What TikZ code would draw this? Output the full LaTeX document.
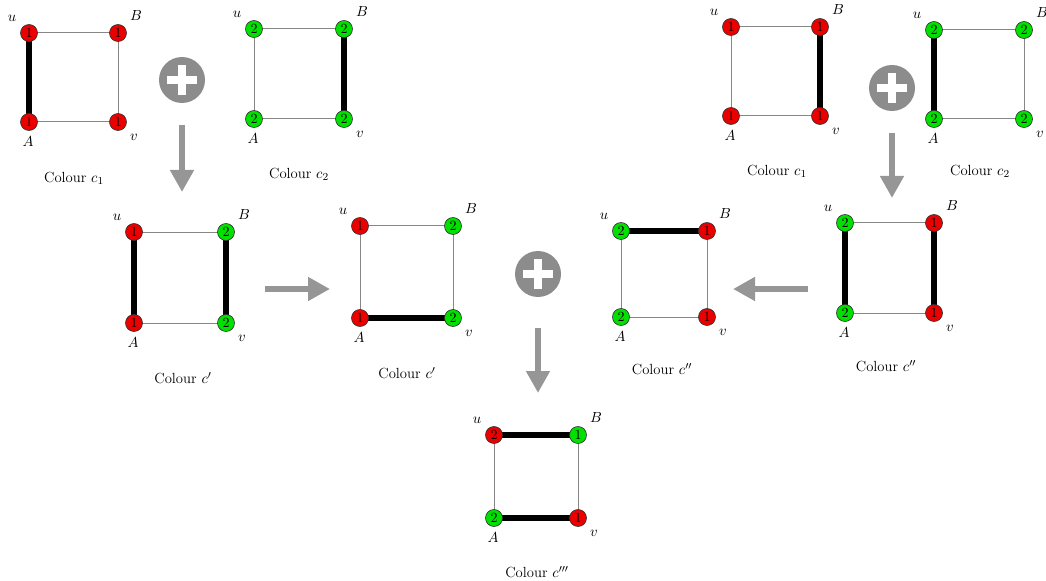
\documentclass[tikz,border=0pt]{standalone}
\usetikzlibrary{calc,arrows.meta,backgrounds}
\definecolor{vred}{RGB}{235,0,0}
\definecolor{vgreen}{RGB}{0,225,0}
\definecolor{agray}{RGB}{150,150,150}
\definecolor{pgray}{RGB}{140,140,140}
\definecolor{egray}{RGB}{135,135,135}
\newcommand\labfont{\fontsize{11}{13}\selectfont}
\newcommand\numfont{\fontsize{10.5}{12}\selectfont}
\tikzset{
 vtx/.style={circle,draw=black!80,line width=0.5pt,minimum size=12.75pt,inner sep=0pt,font=\numfont},
 thinedge/.style={draw=egray,line width=0.75pt},
 thickedge/.style={draw=black,line width=4.2pt},
 vlab/.style={inner sep=0pt,font=\labfont},
 captxt/.style={inner sep=0pt,font=\labfont},
 bigarrow/.style={draw=agray,line width=5pt,-{Triangle[length=16.5pt,width=17pt]}},
 plusc/.style={circle,fill=pgray,minimum size=34.5pt,inner sep=0pt},
}
\newcommand\sqg[9]{%
  \coordinate (#1pu) at (#2,#3);
  \coordinate (#1pB) at (#4,#3);
  \coordinate (#1pA) at (#2,#5);
  \coordinate (#1pv) at (#4,#5);
  \foreach \n/\c/\t in {u/#6,B/#7,A/#8,v/#9}
    \node[vtx,fill=\c] (#1\n) at (#1p\n) {\t};
  \begin{scope}[on background layer]
    \draw[thinedge] (#1u.center)--(#1B.center)--(#1v.center)--(#1A.center)--cycle;
  \end{scope}
  \node[vlab] at ($(#1pu)+(-17,-15)$) {$u$};
  \node[vlab] at ($(#1pB)+(18,-17)$) {$B$};
  \node[vlab] at ($(#1pA)+(-1,20)$) {$A$};
  \node[vlab] at ($(#1pv)+(16,15)$) {$v$};
}
\newcommand\thk[2]{\begin{scope}[on background layer]\draw[thickedge] (#1.center)--(#2.center);\end{scope}}
\newcommand\plusat[3]{%
  \node[plusc] (#1) at (#2,#3) {};
  \fill[white] ($(#1)+(-15,-4)$) rectangle ($(#1)+(15,4)$);
  \fill[white] ($(#1)+(-4,-15)$) rectangle ($(#1)+(4,15)$);
}
\begin{document}
\begin{tikzpicture}[x=0.75pt,y=-0.75pt]
\useasboundingbox (0,0) rectangle (1046,581);
% Colour c1 (left)
\sqg{ga}{29}{33}{118}{122}{vred/1}{vred/1}{vred/1}{vred/1}
\thk{gau}{gaA}
\node[captxt] at (74,178) {Colour $c_1$};
% Colour c2 (left)
\sqg{gb}{254}{29}{344}{119}{vgreen/2}{vgreen/2}{vgreen/2}{vgreen/2}
\thk{gbB}{gbv}
\node[captxt] at (299,174) {Colour $c_2$};
\plusat{pa}{182}{80}
\coordinate (das) at (182,125); \coordinate (dae) at (182,192);
\draw[bigarrow] (das)--(dae);
% Colour c'
\sqg{gc}{134}{232}{226}{323}{vred/1}{vgreen/2}{vred/1}{vgreen/2}
\thk{gcu}{gcA}\thk{gcB}{gcv}
\node[captxt] at (183,378) {Colour $c'$};
\coordinate (ras) at (265,289); \coordinate (rae) at (330,289);
\draw[bigarrow] (ras)--(rae);
% Colour c' (second)
\sqg{gd}{360}{226}{453}{318}{vred/1}{vgreen/2}{vred/1}{vgreen/2}
\thk{gdA}{gdv}
\node[captxt] at (407,373) {Colour $c'$};
\plusat{pb}{538}{274}
\coordinate (dbs) at (538,328); \coordinate (dbe) at (538,393);
\draw[bigarrow] (dbs)--(dbe);
% Colour c'' (middle)
\sqg{ge}{621}{231}{707}{317}{vgreen/2}{vred/1}{vgreen/2}{vred/1}
\thk{geu}{geB}
\node[captxt] at (662,369) {Colour $c''$};
\coordinate (las) at (808,289); \coordinate (lae) at (733,289);
\draw[bigarrow] (las)--(lae);
% Colour c'' (right)
\sqg{gf}{845}{223}{934}{313}{vgreen/2}{vred/1}{vgreen/2}{vred/1}
\thk{gfu}{gfA}\thk{gfB}{gfv}
\node[captxt] at (886,366) {Colour $c''$};
% Colour c1 (right)
\sqg{gg}{731}{27}{820}{116}{vred/1}{vred/1}{vred/1}{vred/1}
\thk{ggB}{ggv}
\node[captxt] at (777,171) {Colour $c_1$};
% Colour c2 (right)
\sqg{gh}{934}{30}{1024}{119}{vgreen/2}{vgreen/2}{vgreen/2}{vgreen/2}
\thk{ghu}{ghA}
\node[captxt] at (980,171) {Colour $c_2$};
\plusat{pc}{892}{88}
\coordinate (dcs) at (892,133); \coordinate (dce) at (892,198);
\draw[bigarrow] (dcs)--(dce);
% Colour c'''
\sqg{gi}{494}{435}{578}{518}{vred/2}{vgreen/1}{vgreen/2}{vred/1}
\thk{giu}{giB}\thk{giA}{giv}
\node[captxt] at (537,572) {Colour $c'''$};
\end{tikzpicture}
\end{document}
